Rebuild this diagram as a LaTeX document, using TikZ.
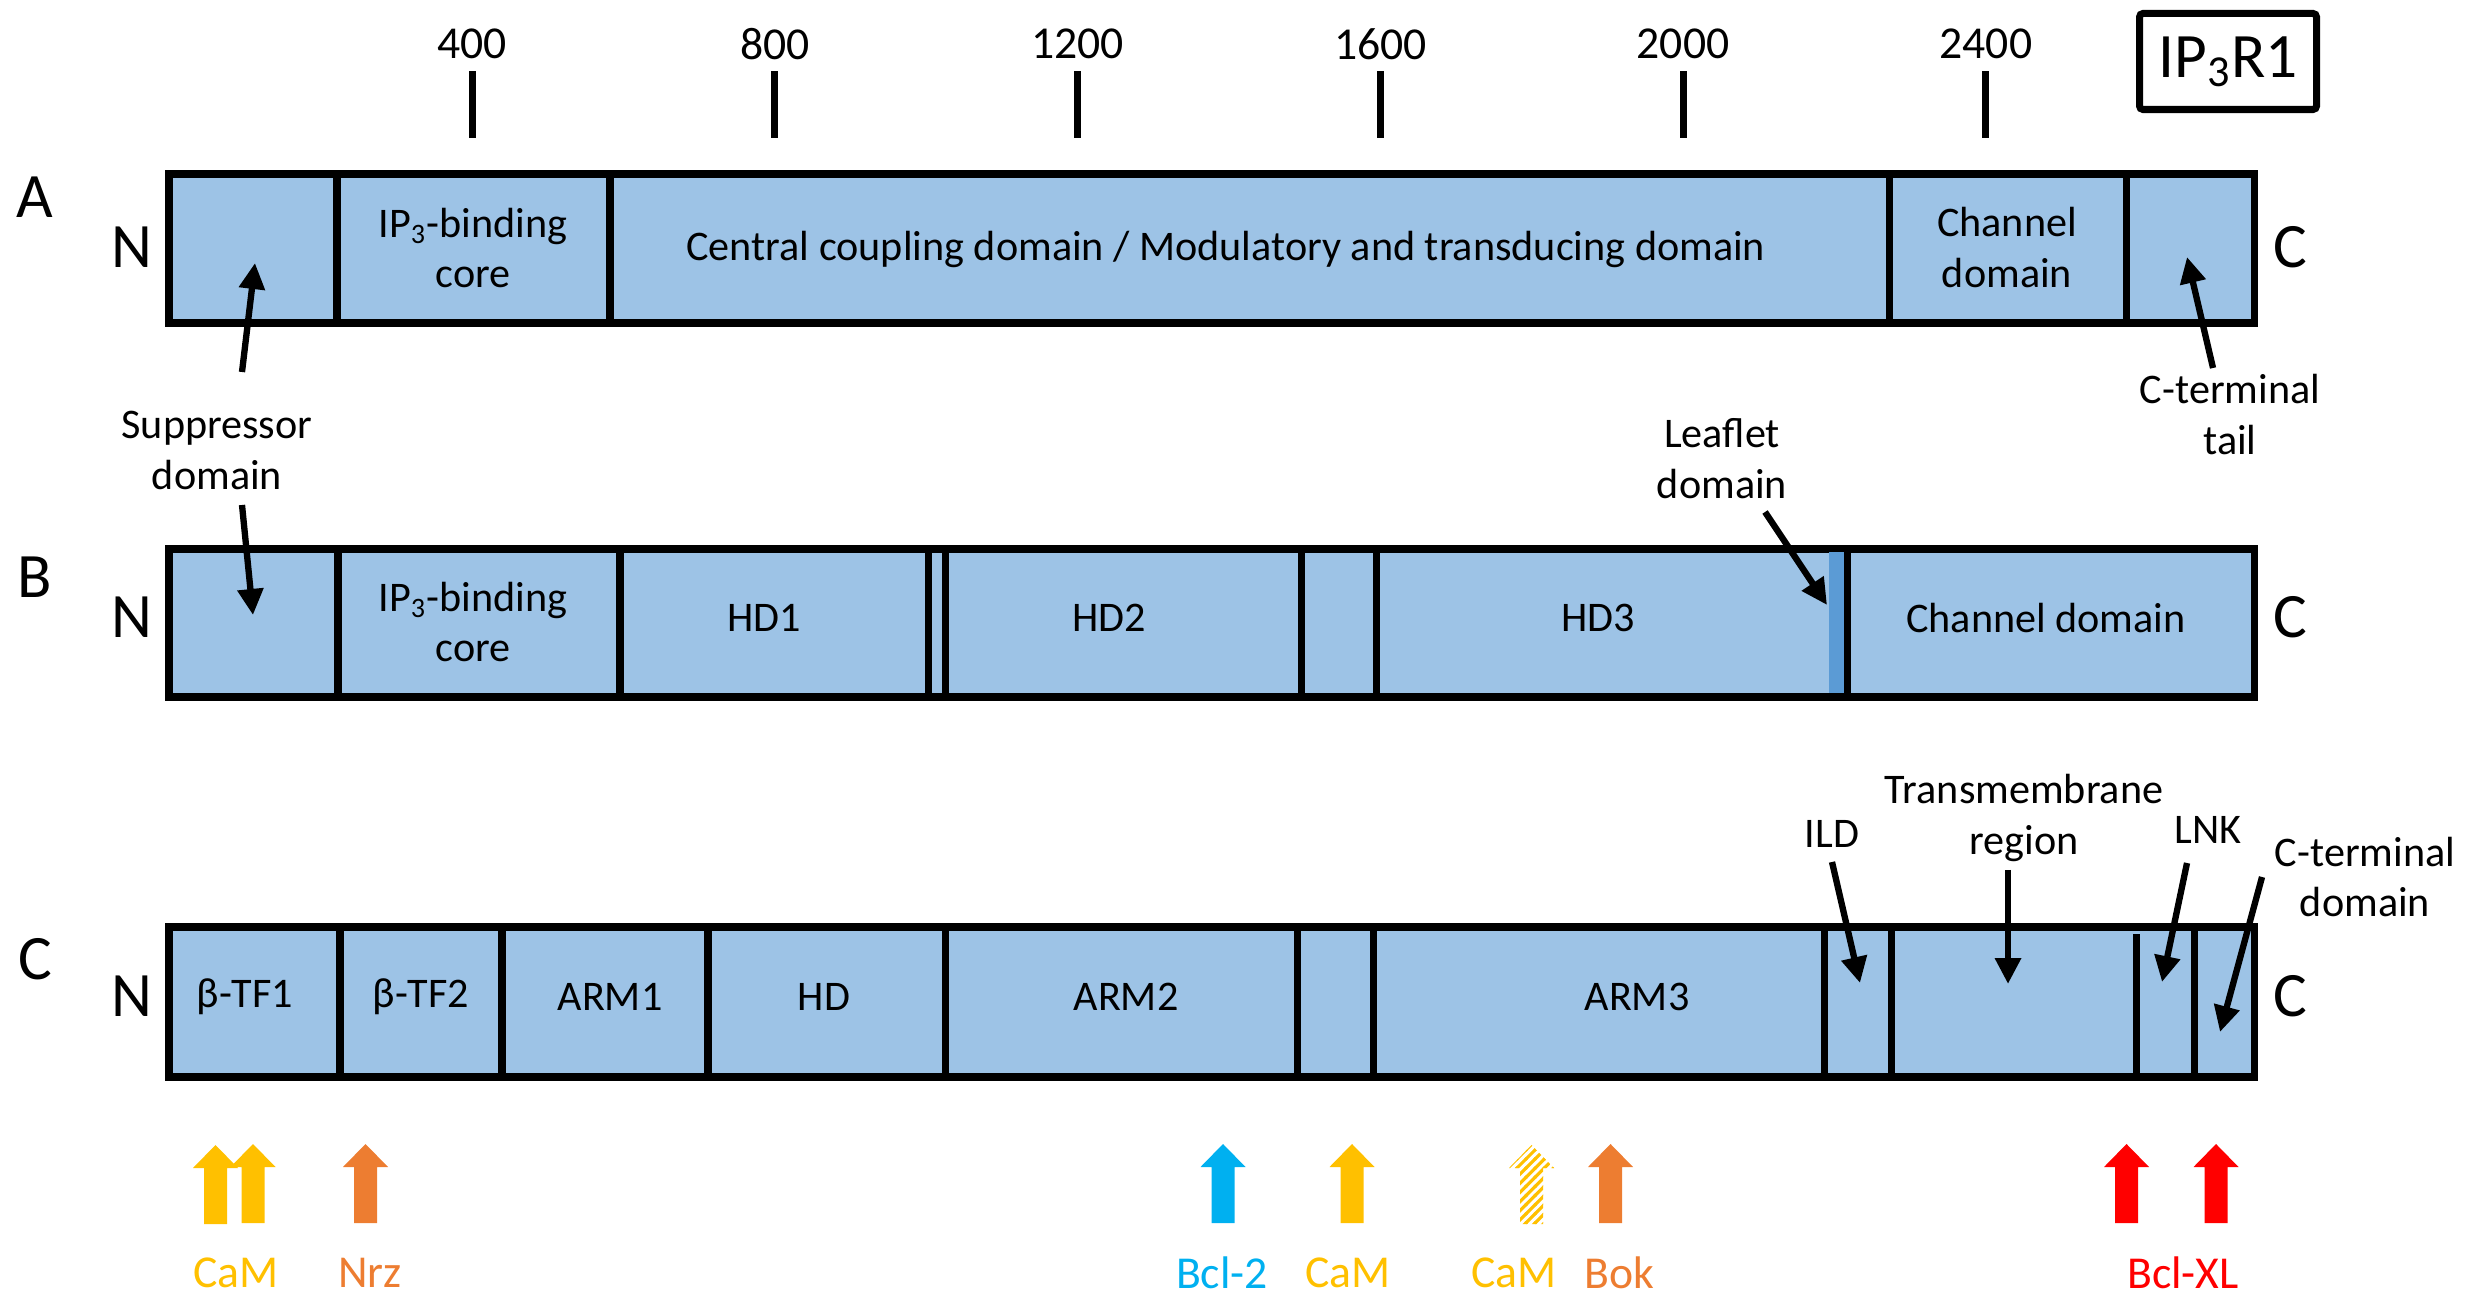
\documentclass[tikz,border=0pt]{standalone}
\usepackage{fontspec}
\setmainfont{Carlito}
\usepackage{tikz}
\usetikzlibrary{arrows.meta,positioning,patterns.meta}
\usepackage{xcolor}

\definecolor{barblue}{HTML}{9DC3E6}
\definecolor{leafblue}{HTML}{5B9BD5}
\definecolor{camyellow}{HTML}{FFC000}
\definecolor{bindorange}{HTML}{ED7D31}
\definecolor{bclblue}{HTML}{00B0F0}
\definecolor{xlred}{HTML}{FF0000}

\tikzdeclarepattern{
  name=camstripes,
  type=uncolored,
  bounding box={(-1pt,-1pt) and (4pt,4pt)},
  tile size={(2.6pt,2.6pt)},
  code={\draw[line width=0.9pt] (-0.2pt,-0.2pt) -- (2.8pt,2.8pt);}
}

\begin{document}
\begin{tikzpicture}[
  bar/.style={fill=barblue, draw=black, line width=2pt},
  sep/.style={line width=2pt},
  dom/.style={font=\fontsize{12}{14.5}\selectfont, align=center, inner sep=0pt},
  term/.style={font=\fontsize{18}{20}\selectfont, inner sep=0pt},
  tick/.style={font=\fontsize{13}{15}\selectfont, inner sep=0pt},
  lig/.style={font=\fontsize{13}{15}\selectfont, inner sep=0pt},
  ptr/.style={line width=1.8pt, -{Triangle[length=0.26cm,width=0.25cm]}},
  upblk/.pic={\path[pic actions] (-0.115,0) -- (-0.115,0.56) -- (-0.225,0.56)
               -- (0,0.79) -- (0.225,0.56) -- (0.115,0.56) -- (0.115,0) -- cycle;}
]
  \useasboundingbox (0,0) rectangle (24.66,12.96);

  %--- SCALE ---
  \foreach \r in {400,800,1200,1600,2000,2400}{
    \draw[sep] ({1.694+0.007565*\r},11.58) -- ++(0,0.67);
    \node[tick] (tk\r) at ({1.694+0.007565*\r},12.52) {\r};
  }
  \node[draw, line width=2pt, rounded corners=1pt, minimum width=1.77cm,
        minimum height=0.96cm, term] (title) at (22.28,12.345) {IP\textsubscript{3}R1};

  %--- A ---
  \draw[bar] (1.69,9.73) rectangle (22.54,11.22);
  \foreach \x in {3.37,6.10,18.89,21.26}{
    \draw[sep] (\x,9.73) -- (\x,11.22);
  }
  \node[term] (rowA) at (0.35,10.99) {A};
  \node[term] (nA) at (1.32,10.49) {N};
  \node[term] (cA) at (22.90,10.49) {C};
  \node[dom] (ipA) at (4.73,10.48) {IP\textsubscript{3}-binding\\core};
  \node[dom] (ccA) at (12.26,10.47) {Central coupling domain / Modulatory and transducing domain};
  \node[dom] (chA) at (20.07,10.48) {Channel\\domain};

  %--- B ---
  \draw[bar] (1.69,5.99) rectangle (22.54,7.47);
  \fill[leafblue] (18.29,6.025) rectangle (18.44,7.435);
  \foreach \x in {3.38,6.20,9.28,9.45,13.01,13.76,18.47}{
    \draw[sep] (\x,5.99) -- (\x,7.47);
  }
  \node[term] (rowB) at (0.35,7.19) {B};
  \node[term] (nB) at (1.32,6.79) {N};
  \node[term] (cB) at (22.90,6.79) {C};
  \node[dom] (ipB) at (4.73,6.74) {IP\textsubscript{3}-binding\\core};
  \node[dom] (hd1) at (7.64,6.78) {HD1};
  \node[dom] (hd2) at (11.09,6.78) {HD2};
  \node[dom] (hd3) at (15.98,6.78) {HD3};
  \node[dom] (chB) at (20.46,6.78) {Channel domain};

  %--- C ---
  \draw[bar] (1.69,2.19) rectangle (22.54,3.69);
  \foreach \x in {3.40,5.02,7.08,9.45,12.97,13.73,18.24,18.91,21.94}{
    \draw[sep] (\x,2.19) -- (\x,3.69);
  }
  \draw[sep] (21.36,2.19) -- (21.36,3.62);
  \node[term] (rowC) at (0.35,3.37) {C};
  \node[term] (nC) at (1.32,3.00) {N};
  \node[term] (cC) at (22.90,3.00) {C};
  \foreach \n/\x/\t in {tf1/2.45/β-TF1, tf2/4.21/β-TF2, arm1/6.10/ARM1, hd/8.24/HD,
                        arm2/11.26/ARM2, arm3/16.37/ARM3}{
    \node[dom] (\n) at (\x,2.99) {\t};
  }

  %--- Annotations ---
  \node[dom] (supp) at (2.17,8.46) {Suppressor\\domain};
  \node[dom] (ctail) at (22.30,8.81) {C-terminal\\tail};
  \node[dom] (leaf) at (17.22,8.37) {Leaflet\\domain};
  \node[dom] (ild) at (18.32,4.62) {ILD};
  \node[dom] (tm) at (20.24,4.78) {Transmembrane\\region};
  \node[dom] (lnk) at (22.08,4.66) {LNK};
  \node[dom] (cdom) at (23.65,4.19) {C-terminal\\domain};

  \coordinate (suppup) at (2.42,9.24);   \coordinate (supptipA) at (2.55,10.33);
  \coordinate (suppdn) at (2.42,7.91);   \coordinate (supptipB) at (2.53,6.81);
  \coordinate (ctailst) at (22.13,9.28); \coordinate (ctailtip) at (21.87,10.39);
  \coordinate (leafst) at (17.65,7.84);  \coordinate (leaftip) at (18.27,6.91);
  \coordinate (ildst) at (18.32,4.34);   \coordinate (ildtip) at (18.60,3.13);
  \coordinate (tmst) at (20.08,4.26);    \coordinate (tmtip) at (20.08,3.12);
  \coordinate (lnkst) at (21.87,4.33);   \coordinate (lnktip) at (21.62,3.14);
  \coordinate (cdomst) at (22.62,4.19);  \coordinate (cdomtip) at (22.20,2.64);

  \draw[ptr] (suppup) -- (supptipA);
  \draw[ptr] (suppdn) -- (supptipB);
  \draw[ptr] (ctailst) -- (ctailtip);
  \draw[ptr] (leafst) -- (leaftip);
  \draw[ptr] (ildst) -- (ildtip);
  \draw[ptr] (tmst) -- (tmtip);
  \draw[ptr] (lnkst) -- (lnktip);
  \draw[ptr] (cdomst) -- (cdomtip);

  %--- Binding partners ---
  \pic[fill=camyellow] (cam1) at (2.155,0.72) {upblk};
  \pic[fill=camyellow] (cam2) at (2.53,0.73) {upblk};
  \pic[fill=bindorange] (nrz) at (3.655,0.73) {upblk};
  \pic[fill=bclblue] (bcl2) at (12.23,0.73) {upblk};
  \pic[fill=camyellow] (cam3) at (13.52,0.73) {upblk};
  \pic[pattern=camstripes, pattern color=camyellow] (cam4) at (15.315,0.72) {upblk};
  \pic[fill=bindorange] (bok) at (16.105,0.73) {upblk};
  \pic[fill=xlred] (xl1) at (21.265,0.73) {upblk};
  \pic[fill=xlred] (xl2) at (22.16,0.73) {upblk};

  \node[lig, text=camyellow] (camlA) at (2.36,0.23) {CaM};
  \node[lig, text=bindorange] (nrzl) at (3.70,0.23) {Nrz};
  \node[lig, text=bclblue] (bcl2l) at (12.22,0.23) {Bcl-2};
  \node[lig, text=camyellow] (camlB) at (13.48,0.23) {CaM};
  \node[lig, text=camyellow] (camlC) at (15.14,0.23) {CaM};
  \node[lig, text=bindorange] (bokl) at (16.19,0.23) {Bok};
  \node[lig, text=xlred] (xll) at (21.83,0.23) {Bcl-XL};

\end{tikzpicture}
\end{document}
